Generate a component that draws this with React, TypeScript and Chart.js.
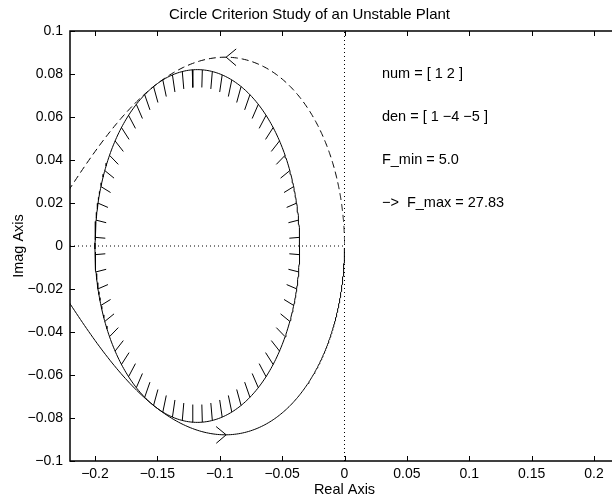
import { useEffect, useRef } from "react";
import { Chart, registerables } from "chart.js";

Chart.register(...registerables);

// Plant and sector bounds
const NUM = [1, 2];
const DEN = [1, -4, -5];
const F_MIN = 5.0;
const F_MAX = 27.83;

const TITLE = "Circle Criterion Study of an Unstable Plant";
const X_LABEL = "Real Axis";
const Y_LABEL = "Imag Axis";

const X_RANGE = [-0.22, 0.22];
const Y_RANGE = [-0.1, 0.1];
const X_TICKS = [-0.2, -0.15, -0.1, -0.05, 0, 0.05, 0.1, 0.15, 0.2];
const Y_TICKS = [-0.1, -0.08, -0.06, -0.04, -0.02, 0, 0.02, 0.04, 0.06, 0.08, 0.1];

const NOTES = ["num = [ 1 2 ]", "den = [ 1 \u22124 \u22125 ]", "F_min = 5.0", "\u2212>  F_max = 27.83"];
const NOTE_X = 0.03;
const NOTE_Y = [0.08, 0.06, 0.04, 0.02];

// Frequency grid for the Nyquist sweep (rad/s)
const W_MIN_EXP = -2;
const W_MAX_EXP = 3;
const W_COUNT = 800;

// Shading of the critical disk
const HATCH_COUNT = 64;
const HATCH_DEPTH = 0.1;

const FONT = "'Liberation Sans', Arial, Helvetica, sans-serif";
const CANVAS_W = 630;
const CANVAS_H = 500;

type Pt = { x: number; y: number | null };

function polyAtJw(coefs: number[], w: number): [number, number] {
  let re = 0;
  let im = 0;
  for (const c of coefs) {
    const nr = -im * w + c;
    const ni = re * w;
    re = nr;
    im = ni;
  }
  return [re, im];
}

function response(w: number): { x: number; y: number } {
  const [a, b] = polyAtJw(NUM, w);
  const [c, d] = polyAtJw(DEN, w);
  const m = c * c + d * d;
  return { x: (a * c + b * d) / m, y: (b * c - a * d) / m };
}

function buildNyquist() {
  const pos: { x: number; y: number }[] = [];
  for (let i = 0; i < W_COUNT; i++) {
    const w = Math.pow(10, W_MIN_EXP + ((W_MAX_EXP - W_MIN_EXP) * i) / (W_COUNT - 1));
    pos.push(response(w));
  }
  const neg = pos.map((p) => ({ x: p.x, y: -p.y })).reverse();
  return { pos, neg };
}

function buildDisk() {
  const cx = -(1 / F_MIN + 1 / F_MAX) / 2;
  const r = (1 / F_MIN - 1 / F_MAX) / 2;
  const ring: Pt[] = [];
  for (let i = 0; i <= 360; i++) {
    const t = (i * Math.PI) / 180;
    ring.push({ x: cx + r * Math.cos(t), y: r * Math.sin(t) });
  }
  const hatch: Pt[] = [];
  for (let k = 0; k < HATCH_COUNT; k++) {
    const t = (2 * Math.PI * (k + 0.5)) / HATCH_COUNT;
    const ri = r * (1 - HATCH_DEPTH);
    hatch.push({ x: cx + r * Math.cos(t), y: r * Math.sin(t) });
    hatch.push({ x: cx + ri * Math.cos(t), y: ri * Math.sin(t) });
    hatch.push({ x: cx, y: null });
  }
  return { ring, hatch };
}

function fmtTick(v: number) {
  const s = String(Math.round(v * 1000) / 1000);
  return s.replace("-", "\u2212");
}

const framePlugin = {
  id: "frame",
  afterDatasetsDraw(chart: any) {
    const { ctx, chartArea: a, scales } = chart;
    const xs = scales.x;
    const ys = scales.y;
    ctx.save();
    ctx.strokeStyle = "#000";
    ctx.lineWidth = 1.5;
    ctx.strokeRect(a.left, a.top, a.right - a.left, a.bottom - a.top);
    ctx.lineWidth = 1;
    const tl = 5;
    ctx.beginPath();
    for (const t of xs.ticks) {
      const px = Math.round(xs.getPixelForValue(t.value)) + 0.5;
      ctx.moveTo(px, a.bottom);
      ctx.lineTo(px, a.bottom - tl);
      ctx.moveTo(px, a.top);
      ctx.lineTo(px, a.top + tl);
    }
    for (const t of ys.ticks) {
      const py = Math.round(ys.getPixelForValue(t.value)) + 0.5;
      ctx.moveTo(a.left, py);
      ctx.lineTo(a.left + tl, py);
      ctx.moveTo(a.right, py);
      ctx.lineTo(a.right - tl, py);
    }
    ctx.stroke();

    // direction arrows on both Nyquist branches
    const drawArrow = (data: { x: number; y: number }[], sign: number) => {
      let idx = 0;
      for (let i = 1; i < data.length; i++) {
        if (sign * data[i].y > sign * data[idx].y) idx = i;
      }
      const p = data[idx];
      const q = data[Math.min(idx + 1, data.length - 1)];
      const o = data[Math.max(idx - 1, 0)];
      const tx = xs.getPixelForValue(p.x);
      const ty = ys.getPixelForValue(p.y);
      const dx = xs.getPixelForValue(q.x) - xs.getPixelForValue(o.x);
      const dy = ys.getPixelForValue(q.y) - ys.getPixelForValue(o.y);
      const ang = Math.atan2(dy, dx);
      const len = 13;
      const spread = (40 * Math.PI) / 180;
      ctx.beginPath();
      ctx.moveTo(tx - len * Math.cos(ang - spread), ty - len * Math.sin(ang - spread));
      ctx.lineTo(tx, ty);
      ctx.lineTo(tx - len * Math.cos(ang + spread), ty - len * Math.sin(ang + spread));
      ctx.stroke();
    };
    const ds = chart.data.datasets;
    drawArrow(ds[0].data, -1);
    drawArrow(ds[1].data, 1);

    ctx.fillStyle = "#000";
    ctx.font = `14.5px ${FONT}`;
    ctx.textAlign = "left";
    ctx.textBaseline = "middle";
    NOTES.forEach((s, i) => {
      ctx.fillText(s, xs.getPixelForValue(NOTE_X), ys.getPixelForValue(NOTE_Y[i]));
    });
    ctx.restore();
  },
};

export default function App() {
  const ref = useRef<HTMLCanvasElement>(null);
  useEffect(() => {
    const { pos, neg } = buildNyquist();
    const { ring, hatch } = buildDisk();
    const line = {
      showLine: true,
      borderColor: "#000",
      borderWidth: 1,
      pointRadius: 0,
      fill: false,
      tension: 0,
    };
    const chart = new Chart(ref.current!, {
      type: "scatter",
      data: {
        datasets: [
          { ...line, data: pos },
          { ...line, data: neg, borderDash: [7, 4] },
          { ...line, data: ring },
          { ...line, data: hatch, spanGaps: false },
          { ...line, data: [{ x: 0, y: Y_RANGE[0] }, { x: 0, y: Y_RANGE[1] }], borderDash: [1, 3] },
          { ...line, data: [{ x: X_RANGE[0], y: 0 }, { x: 0, y: 0 }], borderDash: [1, 3] },
        ] as any,
      },
      options: {
        animation: false,
        responsive: false,
        events: [],
        layout: { padding: { left: 0, right: CANVAS_W - 619, top: 0, bottom: 0 } },
        plugins: {
          legend: { display: false },
          tooltip: { enabled: false },
          title: {
            display: true,
            text: TITLE,
            color: "#000",
            font: { family: FONT, size: 15, weight: "normal" },
            padding: { top: 6, bottom: 7 },
          },
        },
        scales: {
          x: {
            type: "linear",
            min: X_RANGE[0],
            max: X_RANGE[1],
            afterBuildTicks: (s: any) => {
              s.ticks = X_TICKS.map((v) => ({ value: v }));
            },
            afterFit: (s: any) => {
              s.height = CANVAS_H - 461;
            },
            grid: { display: false, drawTicks: false },
            border: { display: false },
            ticks: {
              color: "#000",
              font: { family: FONT, size: 14 },
              padding: 5,
              maxRotation: 0,
              autoSkip: false,
              callback: (v: any) => fmtTick(Number(v)),
            },
            title: {
              display: true,
              text: X_LABEL,
              color: "#000",
              font: { family: FONT, size: 14.5 },
              padding: { top: 0, bottom: 1 },
            },
          },
          y: {
            type: "linear",
            min: Y_RANGE[0],
            max: Y_RANGE[1],
            afterBuildTicks: (s: any) => {
              s.ticks = Y_TICKS.map((v) => ({ value: v }));
            },
            afterFit: (s: any) => {
              s.width = 70;
            },
            grid: { display: false, drawTicks: false },
            border: { display: false },
            ticks: {
              color: "#000",
              font: { family: FONT, size: 14 },
              padding: 7,
              autoSkip: false,
              callback: (v: any) => fmtTick(Number(v)),
            },
            title: {
              display: true,
              text: Y_LABEL,
              color: "#000",
              font: { family: FONT, size: 14.5 },
              padding: { top: 10, bottom: 0 },
            },
          },
        },
      } as any,
      plugins: [framePlugin],
    });
    return () => chart.destroy();
  }, []);
  return (
    <div
      style={{
        position: "fixed",
        left: 0,
        top: 0,
        width: 612,
        height: 500,
        overflow: "hidden",
        background: "#fff",
      }}
    >
      <canvas ref={ref} width={CANVAS_W} height={CANVAS_H} style={{ display: "block" }} />
    </div>
  );
}
